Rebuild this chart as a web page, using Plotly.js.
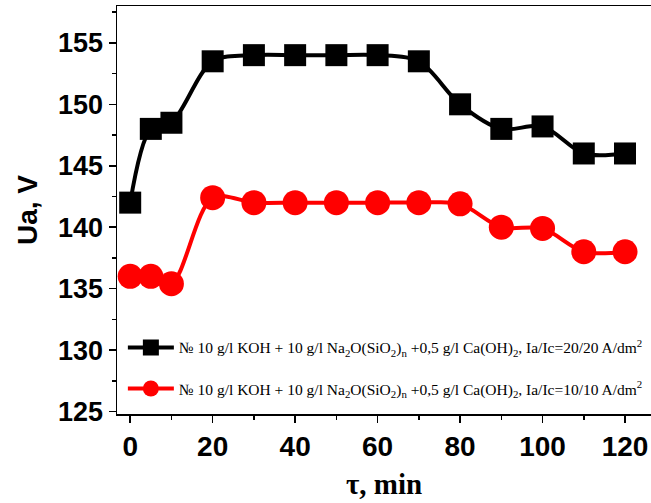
<!DOCTYPE html>
<html>
<head>
<meta charset="utf-8">
<script src="https://cdn.plot.ly/plotly-3.0.1.min.js"></script>
<style>html,body{margin:0;padding:0;background:#fff;}#chart{width:651px;height:503px;}</style>
</head>
<body>
<div id="chart"></div>
<script>
// Data
var timeMin = [0, 5, 10, 20, 30, 40, 50, 60, 70, 80, 90, 100, 110, 120];
var uaSeries1 = [142, 148, 148.5, 153.5, 154, 154, 154, 154, 153.5, 150, 148, 148.2, 146, 146];
var uaSeries2 = [136, 136, 135.4, 142.4, 142, 142, 142, 142, 142, 141.9, 140, 139.9, 138, 138];
var legendNames = [
  "№ 10 g/l KOH + 10 g/l Na<sub>2</sub>O(SiO<sub>2</sub>)<sub>n</sub> +0,5 g/l Ca(OH)<sub>2</sub>, Ia/Ic=20/20 A/dm<sup>2</sup>",
  "№ 10 g/l KOH + 10 g/l Na<sub>2</sub>O(SiO<sub>2</sub>)<sub>n</sub> +0,5 g/l Ca(OH)<sub>2</sub>, Ia/Ic=10/10 A/dm<sup>2</sup>"
];
var yTickVals = [125, 130, 135, 140, 145, 150, 155];
var xTickVals = [0, 20, 40, 60, 80, 100, 120];

var traces = [
  {
    x: timeMin, y: uaSeries1, name: legendNames[0], type: 'scatter', mode: 'lines+markers',
    line: {color: '#000000', width: 4, shape: 'spline', smoothing: 0.9},
    marker: {symbol: 'square', size: 22, color: '#000000'},
    legendgroup: 'a'
  },
  {
    x: timeMin, y: uaSeries2, name: legendNames[1], type: 'scatter', mode: 'lines+markers',
    line: {color: '#ff0000', width: 4, shape: 'spline', smoothing: 0.9},
    marker: {symbol: 'circle', size: 25, color: '#ff0000'},
    legendgroup: 'b'
  }
];

var layout = {
  width: 651, height: 503,
  margin: {l: 117, r: 0, t: 6, b: 89, autoexpand: false},
  paper_bgcolor: '#ffffff', plot_bgcolor: '#ffffff',
  showlegend: true,
  legend: {
    x: 0.011, y: 0.112, xanchor: 'left', yanchor: 'middle',
    bgcolor: 'rgba(0,0,0,0)', borderwidth: 0,
    font: {family: 'Liberation Serif, Times New Roman, serif', size: 15.5, color: '#000'},
    itemwidth: 46, tracegroupgap: 18, traceorder: 'grouped'
  },
  xaxis: {
    range: [-3.2, 126.3], tickvals: xTickVals, ticktext: xTickVals.map(String),
    ticks: 'outside', ticklen: 7, tickwidth: 1.5, tickcolor: '#000',
    minor: {dtick: 10, tick0: 0, ticks: 'outside', ticklen: 4, tickwidth: 1.5, tickcolor: '#000'},
    showline: true, linecolor: '#000', linewidth: 1.5, mirror: true,
    showgrid: false, zeroline: false,
    tickfont: {family: 'Liberation Sans, Arial, sans-serif', size: 28, color: '#000', weight: 'bold'},
    title: {text: 'τ, min', font: {family: 'Liberation Serif, Times New Roman, serif', size: 29, color: '#000', weight: 'bold'}, standoff: 12}
  },
  xaxis2: {
    overlaying: 'x', matches: 'x', side: 'top', anchor: 'y',
    range: [-3.2, 126.3], dtick: 10, tick0: 0, ticks: 'inside', ticklen: 3, tickwidth: 1, tickcolor: '#000',
    showticklabels: false, showgrid: false, zeroline: false, showline: false
  },
  yaxis: {
    range: [124.8, 158.0], tickvals: yTickVals, ticktext: yTickVals.map(String),
    ticks: 'outside', ticklen: 7, tickwidth: 1.5, tickcolor: '#000',
    minor: {dtick: 2.5, tick0: 125, ticks: 'outside', ticklen: 4, tickwidth: 1.5, tickcolor: '#000'},
    showline: true, linecolor: '#000', linewidth: 1.5, mirror: false,
    showgrid: false, zeroline: false,
    tickfont: {family: 'Liberation Sans, Arial, sans-serif', size: 27, color: '#000', weight: 'bold'},
    title: {text: 'Ua, V', font: {family: 'Liberation Sans, Arial, sans-serif', size: 28, color: '#000', weight: 'bold'}, standoff: 12}
  }
};

Plotly.newPlot('chart', traces, layout, {staticPlot: true, displayModeBar: false});
</script>
</body>
</html>
